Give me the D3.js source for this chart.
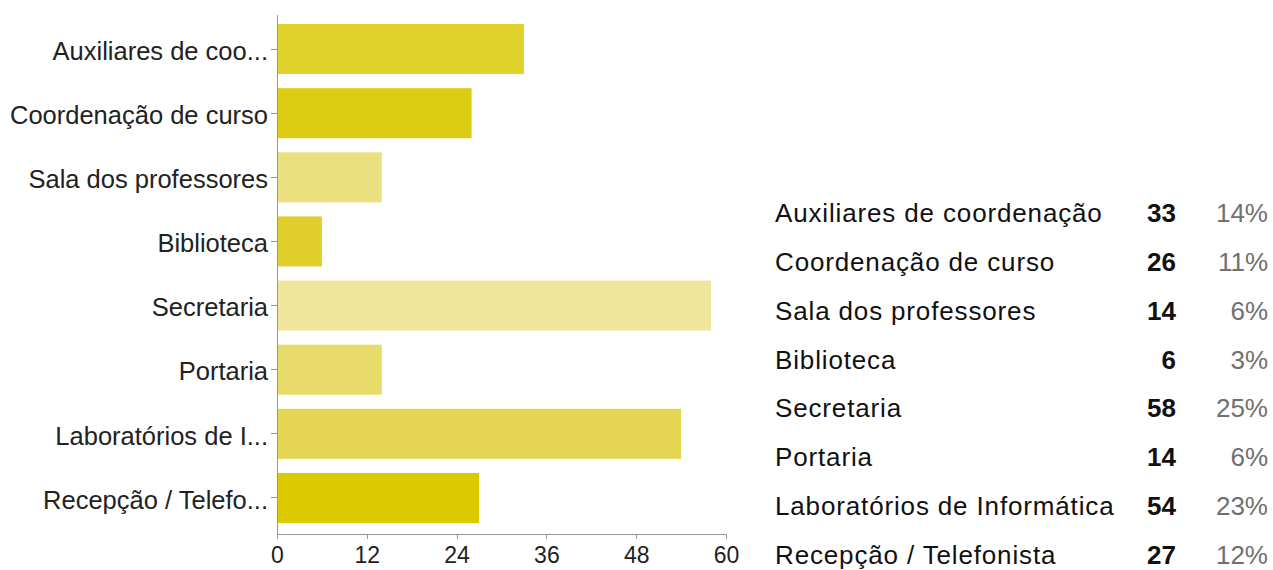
<!DOCTYPE html>
<html>
<head>
<meta charset="utf-8">
<script src="https://cdn.jsdelivr.net/npm/d3@7"></script>
<style>
  body { margin: 0; background: #fff; }
  svg text { font-family: "Liberation Sans", Arial, sans-serif; }
  .axis path, .axis line { stroke: #999; shape-rendering: crispEdges; }
</style>
</head>
<body>
<div id="chart-container"></div>
<script>
// answers to the survey question
let categories = ["Auxiliares de coordenação", "Coordenação de curso", "Sala dos professores",
  "Biblioteca", "Secretaria", "Portaria", "Laboratórios de Informática", "Recepção / Telefonista"];
let shortLabels = ["Auxiliares de coo...", "Coordenação de curso", "Sala dos professores",
  "Biblioteca", "Secretaria", "Portaria", "Laboratórios de I...", "Recepção / Telefo..."];
let counts = [33, 26, 14, 6, 58, 14, 54, 27];
let percents = ["14%", "11%", "6%", "3%", "25%", "6%", "23%", "12%"];
let xTicks = [0, 12, 24, 36, 48, 60];

let barColors = ["#e1d12b", "#ddcc14", "#ebe07f", "#dfce2c", "#efe69c", "#e8db69", "#e4d652", "#dcc900"];

let width = 1273,
    height = 570;

let svg = d3.select("#chart-container")
    .append("svg")
    .attr("width", width)
    .attr("height", height);

let x = d3.scaleLinear().domain([0, 60]).range([277, 726]);

let y = d3.scaleBand()
    .domain(categories)
    .range([17, 530])
    .paddingInner(0.22)
    .paddingOuter(0.11);

// bars
svg.selectAll("rect.bar")
    .data(categories)
    .enter()
    .append("rect")
    .attr("class", "bar")
    .attr("x", x(0))
    .attr("y", function(d) { return y(d); })
    .attr("width", function(d, i) { return x(counts[i]) - x(0); })
    .attr("height", y.bandwidth())
    .attr("fill", function(d, i) { return barColors[i]; });

// y axis with shortened names
let yAxis = d3.axisLeft(y)
    .tickSize(6)
    .tickPadding(3)
    .tickFormat(function(d, i) { return shortLabels[i]; });

let gy = svg.append("g")
    .attr("class", "axis")
    .attr("transform", `translate(${x(0)},0)`)
    .call(yAxis);
gy.select(".domain").attr("d", "M0,15V534");
gy.selectAll("text")
    .style("font-size", "25.5px")
    .attr("fill", "#222")
    .attr("dy", "0.42em");

// x axis
let xAxis = d3.axisBottom(x).tickValues(xTicks).tickSize(5).tickPadding(8);

let gx = svg.append("g")
    .attr("class", "axis")
    .attr("transform", "translate(0,534)")
    .call(xAxis);
gx.select(".domain").attr("d", `M${x(0)},0H${x(60)}`);
gx.selectAll("text")
    .style("font-size", "23px")
    .attr("fill", "#222");

// summary table on the right
let rowY = d3.scalePoint().domain(categories).range([222, 564]);

let rows = svg.append("g").attr("class", "table");

rows.selectAll("text.name")
    .data(categories)
    .enter()
    .append("text")
    .attr("class", "name")
    .attr("x", 775)
    .attr("y", function(d) { return rowY(d); })
    .style("font-size", "26px")
    .style("letter-spacing", "0.85px")
    .attr("fill", "#111")
    .text(function(d) { return d; });

rows.selectAll("text.count")
    .data(categories)
    .enter()
    .append("text")
    .attr("class", "count")
    .attr("x", 1176)
    .attr("y", function(d) { return rowY(d); })
    .attr("text-anchor", "end")
    .style("font-size", "26px")
    .style("font-weight", "bold")
    .attr("fill", "#111")
    .text(function(d, i) { return counts[i]; });

rows.selectAll("text.pct")
    .data(categories)
    .enter()
    .append("text")
    .attr("class", "pct")
    .attr("x", 1268)
    .attr("y", function(d) { return rowY(d); })
    .attr("text-anchor", "end")
    .style("font-size", "26px")
    .attr("fill", "#707070")
    .text(function(d, i) { return percents[i]; });
</script>
</body>
</html>
